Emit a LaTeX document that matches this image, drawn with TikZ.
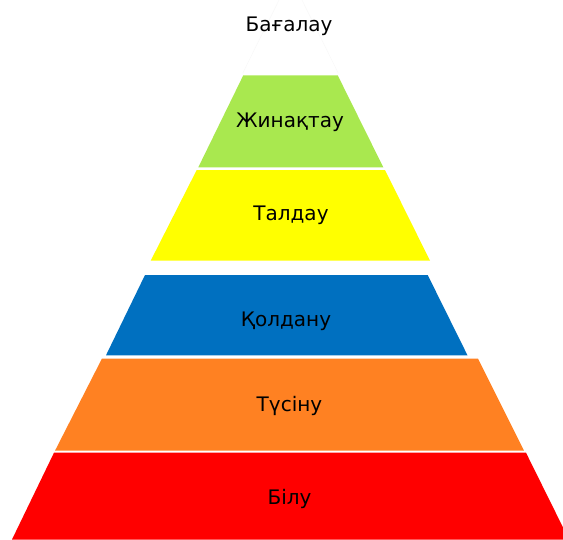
\documentclass[tikz,border=0pt]{standalone}
\usepackage{fontspec}
\setmainfont{DejaVu Sans}
\definecolor{cgreen}{HTML}{A9E84F}
\definecolor{cyellow}{HTML}{FFFF00}
\definecolor{cblue}{HTML}{0070C0}
\definecolor{corange}{HTML}{FF8122}
\definecolor{cred}{HTML}{FF0000}
\tikzset{
  layer/.style={draw=none},
  lbl/.style={font=\fontsize{20}{24}\selectfont, text=black, inner sep=0pt, anchor=base},
}
\begin{document}
\begin{tikzpicture}[x=1pt,y=-1pt]
\useasboundingbox (0,0) rectangle (563,539);
\clip (0,0) rectangle (563,539);
\fill[white] (0,0) rectangle (563,539);
% top (white) layer
\draw[black!3, line width=0.4pt, fill=white] (242.8,73) -- (280,-2) -- (301,-2) -- (338.2,73);
% layers
\fill[cgreen, layer] (243.3,75.3) -- (337.7,75.3) -- (383.3,167.3) -- (198.3,167.3) -- cycle;
\fill[cyellow, layer] (196.7,170) -- (385,170) -- (430,260.7) -- (150.7,260.7) -- cycle;
\fill[cblue, layer] (145,275) -- (427.7,275) -- (467.5,355.3) -- (106,355.3) -- cycle;
\fill[corange, layer] (102,358.5) -- (478,358.5) -- (524,450.7) -- (55,450.7) -- cycle;
\fill[cred, layer] (54,452.7) -- (526,452.7) -- (569,539.5) -- (12,539.5) -- cycle;
% labels
\node[lbl] (t0) at (289,31.7) {Бағалау};
\node[lbl] (t1) at (290,127.3) {Жинақтау};
\node[lbl] (t2) at (291,220) {Талдау};
\node[lbl] (t3) at (286,326.7) {Қолдану};
\node[lbl] (t4) at (289.5,411) {Түсіну};
\node[lbl] (t5) at (289.5,504) {Білу};
\end{tikzpicture}
\end{document}
